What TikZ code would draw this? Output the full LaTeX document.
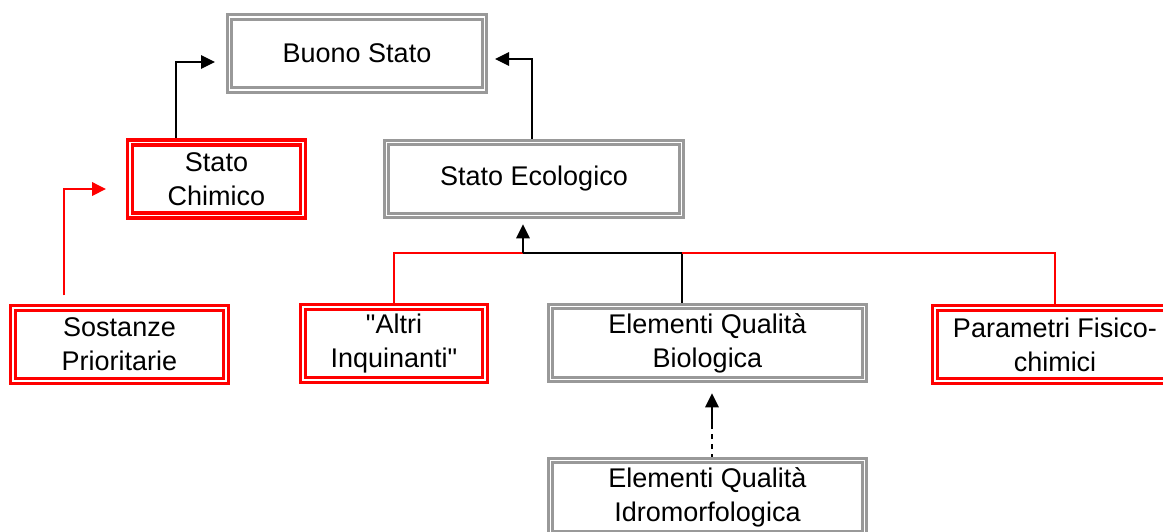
\documentclass[tikz,border=0pt]{standalone}
\usepackage{fontspec}
\setmainfont{Liberation Sans}[Ligatures=TeXOff]
\usetikzlibrary{arrows.meta,backgrounds}
\definecolor{boxgray}{RGB}{153,153,153}

\begin{document}
\begin{tikzpicture}[x=0.5pt,y=-0.5pt,
  font=\fontsize{13.5}{17}\selectfont,
  graybox/.style={draw=boxgray,double=white,double distance=0.85pt,line width=1.35pt,
    fill=white,inner sep=0pt,minimum height=36.5pt,align=center},
  redbox/.style={graybox,draw=red,line width=1.7pt},
  blk/.style={black,line width=0.65pt},
  rd/.style={red,line width=0.8pt},
  tip/.style={-{Triangle[length=7pt,width=6.8pt]}}]
\useasboundingbox (0,0) rectangle (1163,531);
\clip (0,0) rectangle (1163,531);

\node[graybox,minimum width=127.5pt] (buono) at (357,53.5) {Buono Stato};
\node[redbox,minimum width=86.5pt] (chimico) at (216.5,179) {Stato\\Chimico};
\node[graybox,minimum width=147.5pt] (ecol) at (534,179) {Stato Ecologico};
\node[redbox,minimum width=106.5pt] (sost) at (119.5,344.5) {Sostanze\\Prioritarie};
\node[redbox,minimum width=91pt] (altri) at (394,343.5) {"Altri\\Inquinanti"};
\node[graybox,minimum width=157pt] (bio) at (707.5,343) {Elementi Qualità\\Biologica};
\node[redbox,minimum width=120pt] (param) at (1055,344.5) {Parametri Fisico-\\chimici};
\node[graybox,minimum width=157pt] (idro) at (707.5,497) {Elementi Qualità\\Idromorfologica};

\coordinate (chx) at (176,0);
\coordinate (buonol) at (215,62);
\coordinate (ecx) at (532,0);
\coordinate (buonor) at (495,59);
\coordinate (sox) at (64,0);
\coordinate (chimicol) at (106,189);
\coordinate (split) at (523,253);
\coordinate (biox) at (682,253);
\coordinate (idx) at (712,0);
\coordinate (dashend) at (712,425);

\begin{scope}[on background layer]
\draw[blk,tip] (chimico.north -| chx) |- (buonol);
\draw[blk,tip] (ecol.north -| ecx) |- (buonor);
\draw[rd,tip,shorten <=5.5pt] (sost.north -| sox) |- (chimicol);
\draw[rd] (altri.north) |- (split);
\draw[blk] (bio.north -| biox) -- (biox) -- (split);
\draw[rd] (param.north) |- (biox);
\draw[blk,tip,shorten >=3.75pt] (split) -- (ecol.south -| split);
\draw[blk,dash pattern=on 2.5pt off 2.5pt] (idro.north -| idx) -- (dashend);
\draw[blk,tip,shorten >=6.25pt] (dashend) -- (bio.south -| idx);
\end{scope}
\end{tikzpicture}
\end{document}
